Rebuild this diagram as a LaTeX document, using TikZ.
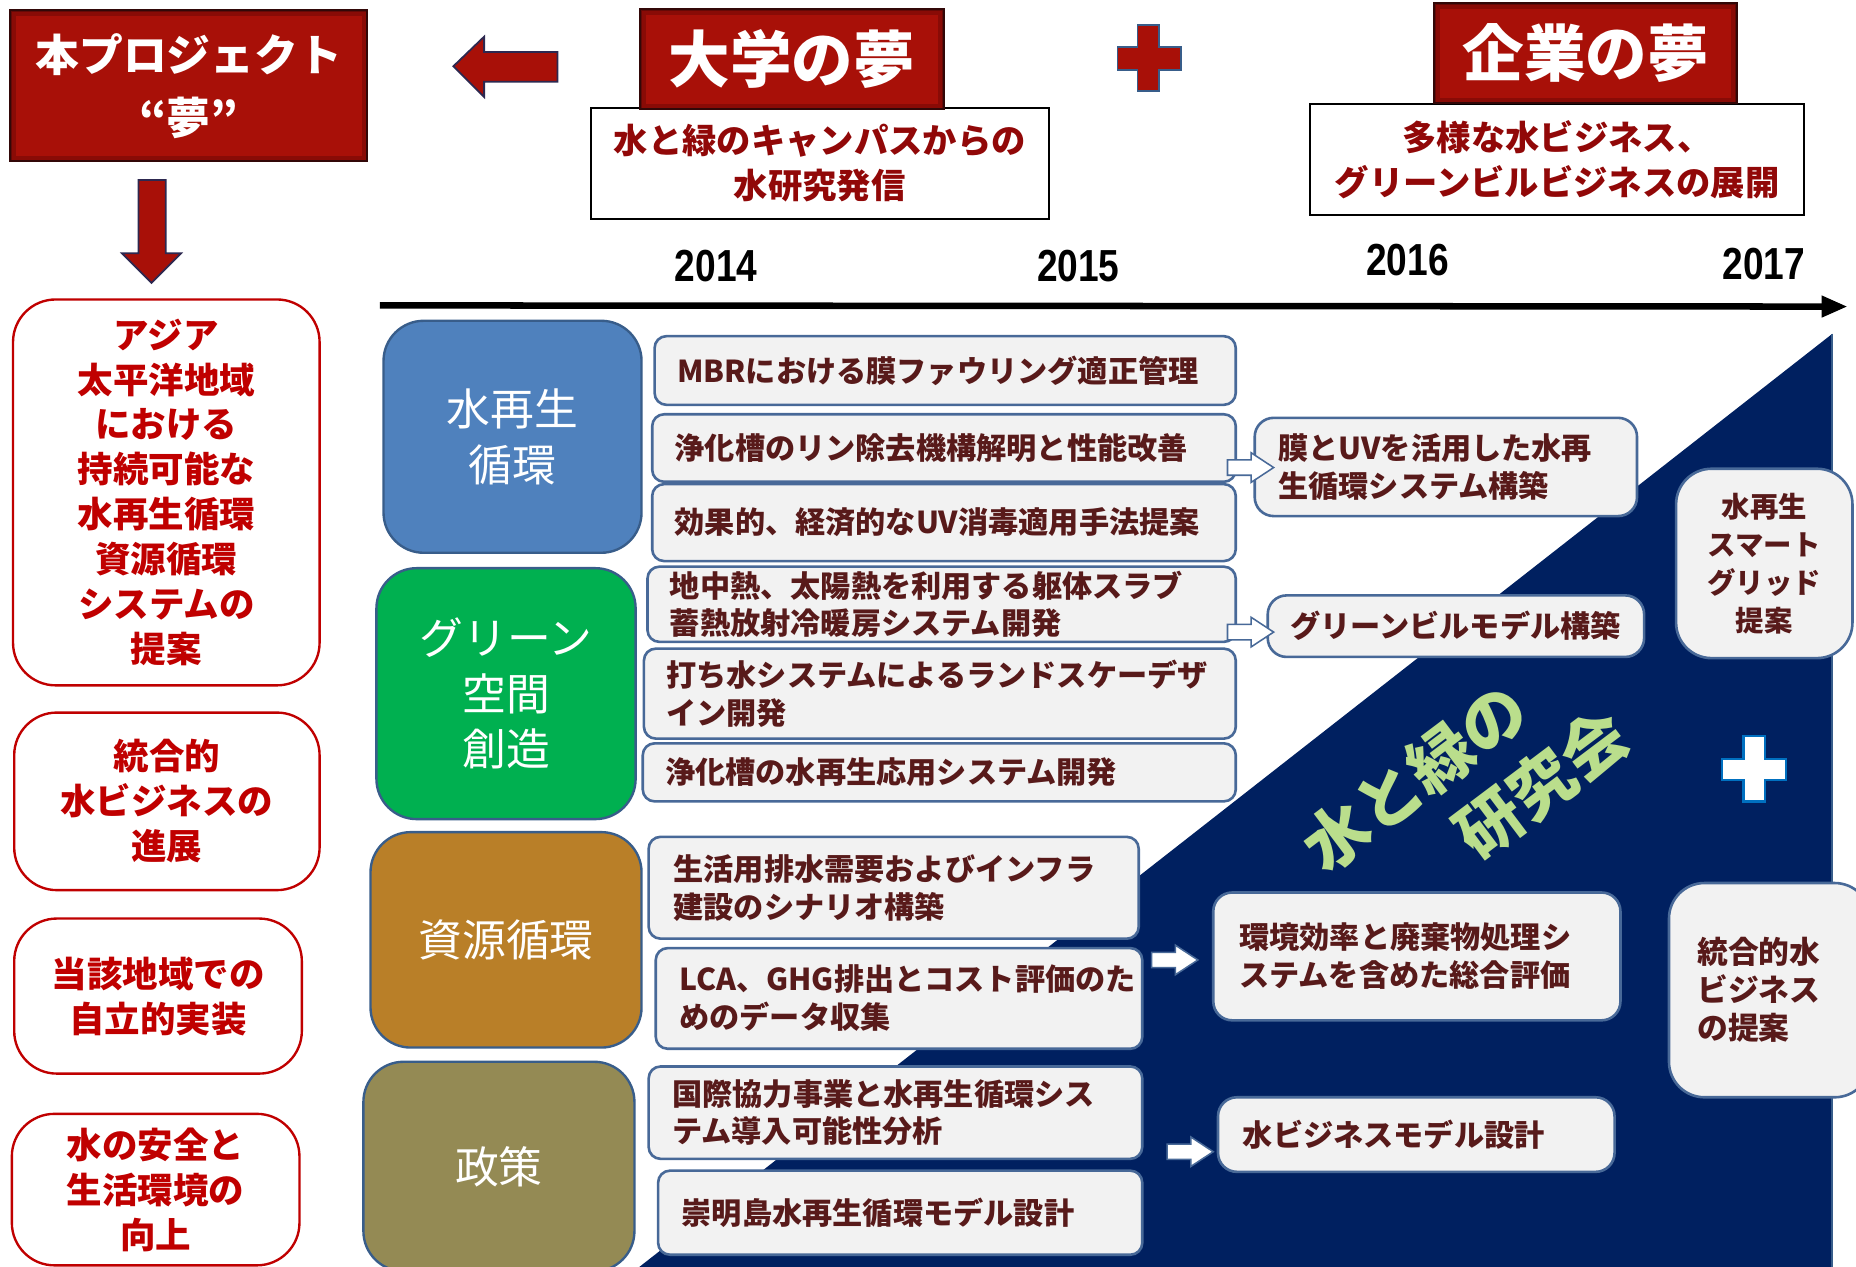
\documentclass[tikz,border=0pt]{standalone}
\usepackage{fontspec}
\usepackage{graphicx}
\setmainfont{Noto Sans CJK JP}
\newfontfamily\yrfont{Liberation Sans}
\usetikzlibrary{arrows.meta,calc}
\definecolor{redfill}{RGB}{168,16,8}
\definecolor{redinner}{RGB}{125,10,6}
\definecolor{reddark}{RGB}{50,8,8}
\definecolor{arrdark}{RGB}{45,40,80}
\definecolor{txtred}{RGB}{145,8,8}
\definecolor{leftred}{RGB}{192,0,0}
\definecolor{taskfill}{RGB}{242,242,242}
\definecolor{taskdraw}{RGB}{72,105,152}
\definecolor{tasktext}{RGB}{88,26,26}
\definecolor{catblue}{RGB}{79,129,189}
\definecolor{catgreen}{RGB}{0,176,80}
\definecolor{catbrown}{RGB}{185,127,40}
\definecolor{catolive}{RGB}{148,138,84}
\definecolor{catdraw}{RGB}{56,93,138}
\definecolor{navy}{RGB}{0,32,96}
\definecolor{lgreen}{RGB}{186,222,140}
\definecolor{plusblue}{RGB}{0,112,192}

\newcommand\bxc[7]{%
  \pgfmathsetmacro\bxW{#5-#3}\pgfmathsetmacro\bxH{#6-#4}%
  \pgfmathsetmacro\bxX{(#3+#5)/2}\pgfmathsetmacro\bxY{(#4+#6)/2}%
  \node[#1,minimum width=\bxW pt,minimum height=\bxH pt] (#2) at (\bxX,\bxY) {#7};}
\newcommand\bxl[8]{%
  \pgfmathsetmacro\bxH{#6-#4}\pgfmathsetmacro\bxT{#5-#3-2*#8}%
  \pgfmathsetmacro\bxX{(#3+#5)/2}\pgfmathsetmacro\bxY{(#4+#6)/2}%
  \node[#1,minimum height=\bxH pt,text width=\bxT pt,inner xsep=#8 pt,align=left] (#2) at (\bxX,\bxY) {#7};}
\newcommand\harrow[2]{%
  \draw[harr] (#1,#2) ++(0,-6.5) -- ++(20,0) -- ++(0,-6) -- ++(19,12.5) -- ++(-19,12.5) -- ++(0,-6) -- ++(-20,0) -- cycle;}
\newcommand\bevel[1]{%
  \draw[redinner,line width=4pt,opacity=0.7] ([shift={(3.5pt,3.5pt)}]#1.south west) rectangle ([shift={(-3.5pt,-3.5pt)}]#1.north east);}

\begin{document}
\begin{tikzpicture}[x=1pt,y=-1pt,
  redbox/.style={fill=redfill,draw=reddark,line width=2pt,text=white},
  whitebox/.style={fill=white,draw=black,line width=1.6pt,text=txtred,font=\fontsize{29}{38}\selectfont\bfseries,align=center},
  catbox/.style={draw=catdraw,line width=2pt,rounded corners=34pt,text=white,font=\fontsize{37}{47}\selectfont,align=center},
  taskbox/.style={fill=taskfill,draw=taskdraw,line width=2.2pt,rounded corners=10pt,text=tasktext,font=\fontsize{25.5}{32}\selectfont\bfseries},
  resbox/.style={taskbox,rounded corners=16pt},
  sidebox/.style={taskbox,rounded corners=30pt,font=\fontsize{24}{32}\selectfont\bfseries,align=center},
  goalbox/.style={fill=white,draw=leftred,line width=2pt,rounded corners=36pt,text=leftred,font=\fontsize{30}{38}\selectfont\bfseries,align=center},
  yearlbl/.style={font=\yrfont\fontsize{33}{33}\selectfont\bfseries},
  harr/.style={fill=white,draw=taskdraw,line width=1.3pt},
  redarr/.style={fill=redfill,draw=arrdark,line width=1.5pt},
  greentxt/.style={text=lgreen,font=\fontsize{55}{69}\selectfont\bfseries,rotate=37,align=left,inner sep=0pt}]
\useasboundingbox (0,0) rectangle (1568,1070);
\clip (0,0) rectangle (1568,1070);
\fill[white] (0,0) rectangle (1568,1070);

% navy triangle
\fill[navy] (538,1072) -- (1548,282) -- (1548,1072) -- cycle;
\draw[catdraw,line width=1.5pt] (1548,282) -- (1548,1072);

% timeline
\coordinate (tl) at (321,258);
\coordinate (tr) at (1561,259);
\draw[line width=5.5pt,-{Triangle[length=22pt,width=17pt]}] (tl) -- (tr);

% top-left project box
\bxc{redbox,font=\fontsize{37}{53}\selectfont\bfseries,align=center}{proj}{9}{9}{310}{136}{本プロジェクト\\“夢”}
\bevel{proj}
% red block arrows
\draw[redarr] (383,56) -- (409,31) -- (409,44) -- (471,44) -- (471,69) -- (409,69) -- (409,82) -- cycle;
\draw[redarr] (117,152) -- (140,152) -- (140,214) -- (153,214) -- (128,239) -- (103,214) -- (117,214) -- cycle;

% university dream
\bxc{whitebox}{uniw}{499}{91}{886}{185}{水と緑のキャンパスからの\\水研究発信}
\bxc{redbox,font=\fontsize{52}{52}\selectfont\bfseries}{uni}{541}{8}{797}{92}{大学の夢}
\bevel{uni}
% red plus
\draw[fill=redfill,draw=catdraw,line width=1.5pt] (961,21) -- (979,21) -- (979,40) -- (998,40) -- (998,59) -- (979,59) -- (979,77) -- (961,77) -- (961,59) -- (944,59) -- (944,40) -- (961,40) -- cycle;
% company dream
\bxc{whitebox}{compw}{1107}{88}{1524}{182}{多様な水ビジネス、\\グリーンビルビジネスの展開}
\bxc{redbox,font=\fontsize{52}{52}\selectfont\bfseries}{comp}{1212}{3}{1467}{87}{企業の夢}
\bevel{comp}

% years
\node[yearlbl] (y14) at (605,225) {\scalebox{0.95}[1.15]{2014}};
\node[yearlbl] (y15) at (911,225) {\scalebox{0.95}[1.15]{2015}};
\node[yearlbl] (y16) at (1189,220) {\scalebox{0.95}[1.15]{2016}};
\node[yearlbl] (y17) at (1490,223) {\scalebox{0.95}[1.15]{2017}};

% left goal boxes
\bxc{goalbox}{g1}{11}{253}{270}{579}{アジア\\太平洋地域\\における\\持続可能な\\水再生循環\\資源循環\\システムの\\提案}
\bxc{goalbox}{g2}{12}{602}{270}{752}{統合的\\水ビジネスの\\進展}
\bxc{goalbox}{g3}{12}{776}{255}{907}{当該地域での\\自立的実装}
\bxc{goalbox}{g4}{10}{941}{253}{1069}{水の安全と\\生活環境の\\向上}

% category boxes
\bxc{catbox,fill=catblue}{c1}{324}{271}{542}{467}{水再生\\循環}
\bxc{catbox,fill=catgreen}{c2}{318}{480}{537}{692}{グリーン\\空間\\創造}
\bxc{catbox,fill=catbrown}{c3}{313}{703}{542}{885}{資源循環}
\bxc{catbox,fill=catolive}{c4}{307}{897}{536}{1074}{政策}

% task boxes
\bxl{taskbox}{t1}{553}{284}{1044}{342}{MBRにおける膜ファウリング適正管理}{19}
\bxl{taskbox}{t2}{551}{350}{1044}{407}{浄化槽のリン除去機構解明と性能改善}{19}
\bxl{taskbox}{t3}{551}{409}{1044}{474}{効果的、経済的なUV消毒適用手法提案}{19}
\bxl{taskbox}{t4}{547}{479}{1044}{542}{地中熱、太陽熱を利用する躯体スラブ\\蓄熱放射冷暖房システム開発}{19}
\bxl{taskbox}{t5}{544}{548}{1044}{624}{打ち水システムによるランドスケーデザ\\イン開発}{19}
\bxl{taskbox}{t6}{543}{628}{1044}{677}{浄化槽の水再生応用システム開発}{19}
\bxl{taskbox}{t7}{548}{707}{962}{793}{生活用排水需要およびインフラ\\建設のシナリオ構築}{21}
\bxl{taskbox}{t8}{554}{801}{965}{886}{LCA、GHG排出とコスト評価のた\\めのデータ収集}{20}
\bxl{taskbox}{t9}{548}{901}{965}{979}{国際協力事業と水再生循環シス\\テム導入可能性分析}{20}
\bxl{taskbox}{t10}{556}{989}{965}{1060}{崇明島水再生循環モデル設計}{20}

% result boxes
\bxl{resbox}{r1}{1060}{353}{1383}{436}{膜とUVを活用した水再\\生循環システム構築}{20}
\bxl{resbox}{r2}{1071}{503}{1389}{555}{グリーンビルモデル構築}{19}
\bxl{resbox}{r3}{1025}{754}{1369}{862}{環境効率と廃棄物処理シ\\ステムを含めた総合評価}{22}
\bxl{resbox}{r4}{1029}{927}{1364}{990}{水ビジネスモデル設計}{21}

% side boxes
\bxc{sidebox}{s1}{1416}{396}{1565}{556}{水再生\\スマート\\グリッド\\提案}
\bxl{sidebox,font=\fontsize{26}{32}\selectfont\bfseries}{s2}{1410}{746}{1580}{927}{統合的水\\ビジネス\\の提案}{24}

% hollow arrows
\harrow{1037}{395}
\harrow{1037}{534}
\harrow{973}{811}
\harrow{986}{973}

% white plus
\draw[fill=white,draw=plusblue,line width=2pt] (1473,622) -- (1491,622) -- (1491,641) -- (1509,641) -- (1509,659) -- (1491,659) -- (1491,677) -- (1473,677) -- (1473,659) -- (1455,659) -- (1455,641) -- (1473,641) -- cycle;

% diagonal green title
\node[greentxt] (gt) at (1238,668) {水と緑の\\\hspace{2em}研究会};
\end{tikzpicture}
\end{document}
